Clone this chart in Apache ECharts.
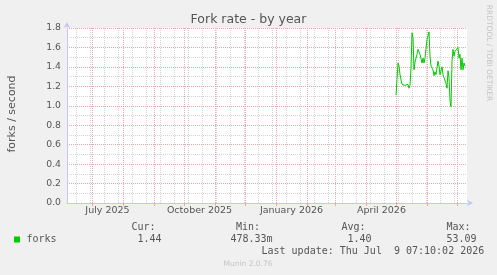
<!DOCTYPE html>
<html><head><meta charset="utf-8">
<script src="https://cdn.jsdelivr.net/npm/echarts@6/dist/echarts.min.js"></script>
<style>html,body{margin:0;padding:0;background:#f0f0f0;}#c{width:497px;height:275px;}</style>
</head><body><div id="c"></div>
<script>
// ---- data ----
const chartTitle = 'Fork rate - by year';
const yAxisName = 'forks / second';
const seriesName = 'forks';
const rangeStart = '2025-06-05T12:00:00Z';
const rangeEnd = '2026-07-10T12:00:00Z';
const firstSample = '2026-04-30T12:00:00Z'; // daily samples from here
const forks = [1.11,1.27,1.44,1.41,1.32,1.30,1.22,1.20,1.23,1.21,
  1.22,1.19,1.22,1.18,1.21,1.39,1.75,1.70,1.37,1.45,
  1.44,1.53,1.58,1.59,1.53,1.53,1.44,1.49,1.44,1.49,
  1.59,1.68,1.66,1.76,1.51,1.41,1.42,1.37,1.31,1.35,
  1.32,1.33,1.46,1.41,1.32,1.34,1.40,1.32,1.34,1.34,
  1.23,1.18,1.36,1.29,1.05,0.99,1.46,1.58,1.51,1.56,
  1.54,1.56,1.60,1.49,1.53,1.37,1.49,1.37,1.44,1.41];
const yMin = 0, yMax = 1.8, yStep = 0.2;
const xLabelTexts = ['July 2025','October 2025','January 2026','April 2026'];
const xLabelDates = ['2025-07-16','2025-10-16','2026-01-16','2026-04-16'];
const monthStarts = ['2025-07-01','2025-08-01','2025-09-01','2025-10-01','2025-11-01','2025-12-01',
  '2026-01-01','2026-02-01','2026-03-01','2026-04-01','2026-05-01','2026-06-01','2026-07-01'];
const minorGridStart = '2025-06-15'; // minor grid every 14 days
const statHeaders = ['Cur:','Min:','Avg:','Max:'];
const statValues = ['1.44','478.33m','1.40','53.09'];
const lastUpdate = 'Last update: Thu Jul  9 07:10:02 2026';
const versionText = 'Munin 2.0.76';
const watermark = 'RRDTOOL / TOBI OETIKER';

// ---- build ----
const DAY = 86400000;
const ts = s => Date.parse(s.length === 10 ? s + 'T00:00:00Z' : s);
const xMin = ts(rangeStart), xMax = ts(rangeEnd);
const t0 = ts(firstSample);
const seriesData = forks.map((v, i) => [t0 + i * DAY, v]);
const minorLines = [];
for (let t = ts(minorGridStart); t < xMax; t += 14 * DAY) minorLines.push(t);
const monthVals = monthStarts.map(ts);
const labelVals = xLabelDates.map(ts);

const red = '#eba8a8', gray = '#d4d4d4', axisBlue = '#c4c8f0', txt = '#555';
const font = 'DejaVu Sans';
const mono = 'DejaVu Sans Mono';

const chart = echarts.init(document.getElementById('c'), null, {renderer: 'canvas'});
const gText = (text, x, y, opts = {}) => ({
  type: 'text', x, y, silent: true,
  style: Object.assign({text, fill: txt, fontFamily: mono, fontSize: 10, textAlign: 'left', textVerticalAlign: 'middle'}, opts)
});
const statX = [131.5, 236, 341.5, 446.5];
const valX = [137.5, 230.5, 347.5, 446.5];
const graphics = [
  gText(chartTitle, 248.5, 19.5, {fontFamily: font, fontSize: 12.5, textAlign: 'center'}),
  Object.assign(gText(yAxisName, 12, 114, {fontFamily: font, fontSize: 11, textAlign: 'center'}), {rotation: Math.PI / 2}),
  Object.assign(gText(watermark, 489, 53, {fontFamily: font, fontSize: 7.5, textAlign: 'center', fill: '#c4c4c4'}), {rotation: -Math.PI / 2}),
  {type: 'rect', shape: {x: 14, y: 236.5, width: 6, height: 6}, style: {fill: '#00cc00'}, silent: true},
  gText(seriesName, 26.5, 239.5),
  gText(lastUpdate, 261.5, 251),
  gText(versionText, 248, 264, {fontFamily: font, fontSize: 7.5, textAlign: 'center', fill: '#c4c4c4'})
];
statHeaders.forEach((h, i) => graphics.push(gText(h, statX[i], 227.5)));
statValues.forEach((v, i) => graphics.push(gText(v, valX[i], 239.5)));

const gridLineSeries = (vals, color, z) => ({
  type: 'line', data: [], silent: true, z,
  markLine: {
    silent: true, symbol: ['none', 'none'], animation: false,
    label: {show: false},
    lineStyle: {color, type: [1, 1], width: 1},
    emphasis: {disabled: true},
    data: vals.map(v => ({xAxis: v}))
  }
});

chart.setOption({
  animation: false,
  backgroundColor: '#f0f0f0',
  grid: {left: 67, top: 28, width: 400, height: 175, show: true, backgroundColor: '#ffffff', borderWidth: 0},
  xAxis: {
    type: 'value', min: xMin, max: xMax, position: 'bottom',
    axisLine: {show: true, lineStyle: {color: axisBlue, width: 1}, symbol: ['none', 'arrow'], symbolSize: [5, 6], symbolOffset: [0, 6]},
    axisTick: {show: true, interval: 0, customValues: monthVals, length: 3, lineStyle: {color: red}},
    axisLabel: {
      show: true, interval: 0, customValues: labelVals, margin: 3,
      color: txt, fontFamily: font, fontSize: 9.5,
      formatter: v => { const i = labelVals.indexOf(v); return i >= 0 ? xLabelTexts[i] : ''; }
    },
    splitLine: {show: false}
  },
  yAxis: {
    type: 'value', min: yMin, max: yMax, interval: yStep,
    axisLine: {show: true, lineStyle: {color: axisBlue, width: 1}, symbol: ['none', 'arrow'], symbolSize: [5, 6], symbolOffset: [0, 6]},
    axisTick: {show: false},
    axisLabel: {color: txt, fontFamily: font, fontSize: 9.3, margin: 6, formatter: v => v.toFixed(1)},
    splitLine: {show: true, lineStyle: {color: red, type: [1, 1], width: 1}},
    minorTick: {show: false, splitNumber: 2},
    minorSplitLine: {show: true, lineStyle: {color: gray, type: [1, 1], width: 1}}
  },
  series: [
    gridLineSeries(minorLines, gray, 1),
    gridLineSeries(monthVals, red, 2),
    {
      name: seriesName, type: 'line', data: seriesData,
      showSymbol: false, symbol: 'none',
      lineStyle: {color: '#00cc00', width: 1}, z: 5
    }
  ],
  graphic: graphics
});
</script></body></html>
